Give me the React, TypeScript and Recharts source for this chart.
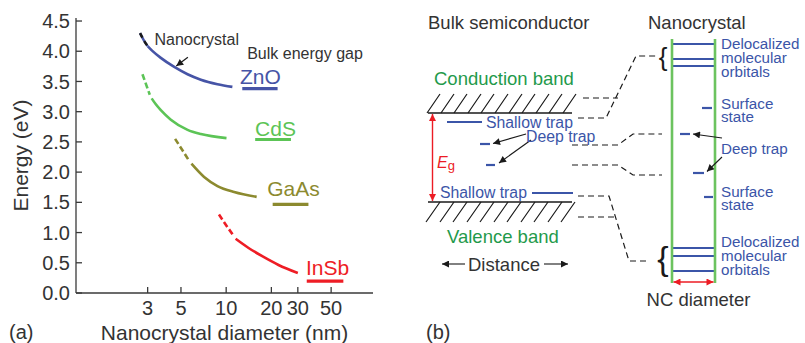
import React from "react";
import { LineChart, Line, XAxis, YAxis, ReferenceDot } from "recharts";

const FONT = '"Liberation Sans", Arial, Helvetica, sans-serif';
const INK = "#333333";
const AXIS = "#3a3a3a";
const BLUE = "#3b55a8";
const GREEN_TXT = "#1f9a4b";
const GREEN_LINE = "#6cc35f";
const RED = "#ec1c24";

const materialColor: Record<string, string> = {
  ZnO: "#4654a6",
  CdS: "#5cc456",
  GaAs: "#8c8a2f",
  InSb: "#ee1d25",
};

// ---- panel (a): band gap vs nanocrystal diameter ----
const diameterTicks = [3, 5, 10, 20, 30, 50];
const energyTicks = [0, 0.5, 1, 1.5, 2, 2.5, 3, 3.5, 4, 4.5];

const znoDashed = [
  { d: 2.67, e: 4.3 },
  { d: 2.83, e: 4.18 },
  { d: 3.01, e: 4.08 },
];
const znoSolid = [
  { d: 3.01, e: 4.08 },
  { d: 3.21, e: 4.01 },
  { d: 3.67, e: 3.89 },
  { d: 4.51, e: 3.74 },
  { d: 5.53, e: 3.62 },
  { d: 6.78, e: 3.53 },
  { d: 8.75, e: 3.455 },
  { d: 11.0, e: 3.41 },
];
const cdsDashed = [
  { d: 2.77, e: 3.62 },
  { d: 2.94, e: 3.44 },
  { d: 3.1, e: 3.28 },
];
const cdsSolid = [
  { d: 3.19, e: 3.22 },
  { d: 3.38, e: 3.13 },
  { d: 3.67, e: 3.025 },
  { d: 4.28, e: 2.868 },
  { d: 5.53, e: 2.7 },
  { d: 6.78, e: 2.63 },
  { d: 10.05, e: 2.563 },
];
const gaasDashed = [
  { d: 4.57, e: 2.55 },
  { d: 5.09, e: 2.37 },
  { d: 5.66, e: 2.19 },
];
const gaasSolid = [
  { d: 5.87, e: 2.14 },
  { d: 7.13, e: 1.92 },
  { d: 8.75, e: 1.77 },
  { d: 11.3, e: 1.67 },
  { d: 15.96, e: 1.59 },
];
const insbDashed = [
  { d: 8.95, e: 1.3 },
  { d: 10.07, e: 1.11 },
  { d: 11.3, e: 0.935 },
];
const insbSolid = [
  { d: 11.56, e: 0.897 },
  { d: 14.1, e: 0.745 },
  { d: 17.5, e: 0.604 },
  { d: 22.3, e: 0.464 },
  { d: 30.0, e: 0.331 },
];

const bulkGaps = [
  { name: "ZnO", from: 12.8, to: 22, e: 3.38 },
  { name: "CdS", from: 15.6, to: 27, e: 2.54 },
  { name: "GaAs", from: 20.4, to: 35.3, e: 1.465 },
  { name: "InSb", from: 34.4, to: 60.3, e: 0.195 },
];
const materialLabels = [
  { name: "ZnO", d: 16.9, e: 3.58 },
  { name: "CdS", d: 21.3, e: 2.73 },
  { name: "GaAs", d: 28.1, e: 1.73 },
  { name: "InSb", d: 47.3, e: 0.43 },
];
const notes = [
  { text: "Nanocrystal", d: 6.37, e: 4.2 },
  { text: "Bulk energy gap", d: 33.5, e: 3.97 },
];
const noteArrow = [
  { d: 5.56, e: 3.9 },
  { d: 4.65, e: 3.755 },
];

// ---- panel (b): schematic, x = distance across page, y = level (down) ----
const conductionEdge = [{ x: 428, y: 113 }, { x: 572, y: 113 }];
const valenceEdge = [{ x: 428, y: 202 }, { x: 572, y: 202 }];
const conductionHatchFeet = [427, 441, 454, 468, 481, 495, 509, 522, 536, 549, 563];
const valenceHatchTops = [440, 454, 467, 481, 494, 508, 521, 535, 548, 562, 575];
const gapArrow = [{ x: 432.5, y: 114 }, { x: 432.5, y: 201 }];
const bulkShallowTraps = [
  [{ x: 447, y: 122 }, { x: 482, y: 122 }],
  [{ x: 532, y: 193 }, { x: 573, y: 193 }],
];
const bulkDeepTraps = [
  [{ x: 480, y: 144 }, { x: 490, y: 144 }],
  [{ x: 486, y: 165 }, { x: 495, y: 165 }],
];
const bulkDeepPointers = [
  [{ x: 526, y: 134 }, { x: 493, y: 143.5 }],
  [{ x: 531, y: 140 }, { x: 499, y: 163 }],
];
const distanceArrows = [
  [{ x: 465, y: 264 }, { x: 442, y: 264 }],
  [{ x: 544, y: 264 }, { x: 568, y: 264 }],
];
const ncWalls = [
  [{ x: 672, y: 39 }, { x: 672, y: 283 }],
  [{ x: 715, y: 39 }, { x: 715, y: 283 }],
];
const ncOrbitalLevels = [44, 59, 66, 248, 256, 271];
const ncSurfaceStates = [
  [{ x: 702, y: 108 }, { x: 712, y: 108 }],
  [{ x: 704, y: 197 }, { x: 713, y: 197 }],
];
const ncDeepTraps = [
  [{ x: 680, y: 134 }, { x: 690, y: 134 }],
  [{ x: 693, y: 173 }, { x: 704, y: 173 }],
];
const ncDeepPointers = [
  [{ x: 722, y: 138 }, { x: 693, y: 134 }],
  [{ x: 722, y: 157 }, { x: 707, y: 171.5 }],
];
const ncDiameterArrow = [{ x: 673.5, y: 282 }, { x: 713.5, y: 282 }];
const correlations = [
  [{ x: 583, y: 98 }, { x: 618, y: 98 }],
  [{ x: 578, y: 118 }, { x: 606, y: 118 }, { x: 636, y: 56 }, { x: 658, y: 56 }],
  [{ x: 572, y: 145 }, { x: 618, y: 145 }, { x: 633, y: 134 }, { x: 662, y: 134 }],
  [{ x: 572, y: 165 }, { x: 618, y: 165 }, { x: 633, y: 175 }, { x: 662, y: 175 }],
  [{ x: 578, y: 196 }, { x: 609, y: 196 }, { x: 629, y: 261 }, { x: 647, y: 261 }],
  [{ x: 578, y: 217 }, { x: 615, y: 217 }],
];
const braces = [
  { x: 663, y: 59, size: 26 },
  { x: 663, y: 261, size: 34 },
];

const headings = [
  { text: "Bulk semiconductor", x: 428, y: 22 },
  { text: "Nanocrystal", x: 648, y: 22 },
  { text: "Distance", x: 468, y: 264 },
];
const bandNames = [
  { text: "Conduction band", x: 434, y: 78 },
  { text: "Valence band", x: 447, y: 236 },
];
const bulkTrapNames = [
  { text: "Shallow trap", x: 486, y: 122 },
  { text: "Deep trap", x: 526, y: 136 },
  { text: "Shallow trap", x: 440, y: 192 },
];
const ncNames = [
  { text: "Delocalized", x: 721, y: 44 },
  { text: "molecular", x: 721, y: 58 },
  { text: "orbitals", x: 721, y: 71.5 },
  { text: "Surface", x: 721, y: 104 },
  { text: "state", x: 721, y: 117 },
  { text: "Deep trap", x: 721, y: 149 },
  { text: "Surface", x: 721, y: 192 },
  { text: "state", x: 721, y: 204.5 },
  { text: "Delocalized", x: 721, y: 242 },
  { text: "molecular", x: 721, y: 256 },
  { text: "orbitals", x: 721, y: 269.5 },
];
const panelTags = [
  { text: "(a)", x: 9, y: 332 },
  { text: "(b)", x: 426, y: 332 },
];

type Pt = { x: number; y: number | null };

const hatch = (xs: number[], y0: number, dx: number, dy: number): Pt[] =>
  xs.flatMap((x) => [
    { x, y: y0 },
    { x: x + dx, y: y0 + dy },
    { x: x + dx, y: null },
  ]);

const say =
  (text: string, size: number, fill: string, anchor: "start" | "middle" | "end" = "start") =>
  (p: any) => {
    const vb = p.viewBox || {};
    const x = (vb.x ?? 0) + (vb.width ?? 0) / 2;
    const y = (vb.y ?? 0) + (vb.height ?? 0) / 2;
    return (
      <text x={x} y={y} dy="0.36em" textAnchor={anchor} fontSize={size} fill={fill} fontFamily={FONT}>
        {text}
      </text>
    );
  };

const Markers = ({ id }: { id: string }) => (
  <defs>
    <marker id={`${id}-k`} viewBox="0 0 10 10" refX="10" refY="5" markerWidth="9" markerHeight="7"
      markerUnits="userSpaceOnUse" orient="auto-start-reverse">
      <path d="M0,0 L10,5 L0,10 z" fill="#1a1a1a" />
    </marker>
    <marker id={`${id}-r`} viewBox="0 0 10 10" refX="10" refY="5" markerWidth="9" markerHeight="7"
      markerUnits="userSpaceOnUse" orient="auto-start-reverse">
      <path d="M0,0 L10,5 L0,10 z" fill={RED} />
    </marker>
  </defs>
);

const seg = (key: string, data: Pt[] | any[], stroke: string, width: number, extra: any = {}) => (
  <Line key={key} data={data} dataKey="y" type="linear" stroke={stroke} strokeWidth={width}
    dot={false} activeDot={false} isAnimationActive={false} {...extra} />
);

function PanelA() {
  const curve = (key: string, data: any[], color: string, dashed: boolean) => (
    <Line key={key} data={data} dataKey="e" type="monotone" stroke={color} strokeWidth={2.6}
      strokeDasharray={dashed ? "6 3" : undefined} dot={false} activeDot={false} isAnimationActive={false} />
  );
  return (
    <LineChart width={400} height={343} margin={{ top: 18, right: 27, bottom: 0, left: 0 }}>
      <Markers id="pa" />
      <XAxis type="number" dataKey="d" scale="log" domain={[1, 95]} allowDataOverflow ticks={diameterTicks}
        height={50} tickSize={-6} tickMargin={13.5} stroke={AXIS} strokeWidth={1.3}
        tick={{ fill: INK, fontSize: 20, fontFamily: FONT }}
        label={(p: any) => (
          <text x={p.viewBox.x + p.viewBox.width / 2} y={p.viewBox.y + 46.5} textAnchor="middle"
            fontSize={21} fill={INK} fontFamily={FONT}>
            Nanocrystal diameter (nm)
          </text>
        )} />
      <XAxis xAxisId="top" orientation="top" type="number" dataKey="d" scale="log" domain={[1, 95]}
        allowDataOverflow height={0} tick={false} tickLine={false} stroke={AXIS} strokeWidth={1.3} />
      <YAxis type="number" domain={[0, 4.55]} allowDataOverflow ticks={energyTicks} width={76}
        tickSize={-6} tickMargin={12} stroke={AXIS} strokeWidth={1.3}
        tickFormatter={(v: number) => v.toFixed(1)}
        tick={{ fill: INK, fontSize: 20, fontFamily: FONT }}
        label={(p: any) => {
          const cx = p.viewBox.x + 28;
          const cy = p.viewBox.y + p.viewBox.height / 2;
          return (
            <text x={cx} y={cy} transform={`rotate(-90 ${cx} ${cy})`} textAnchor="middle"
              fontSize={21} fill={INK} fontFamily={FONT}>
              Energy (eV)
            </text>
          );
        }} />
      <YAxis yAxisId="right" orientation="right" type="number" domain={[0, 4.55]} allowDataOverflow
        ticks={energyTicks} width={0} tick={false} tickSize={-6} stroke={AXIS} strokeWidth={1.3} />

      {curve("zs", znoSolid, materialColor.ZnO, false)}
      <Line data={znoDashed} dataKey="e" type="monotone" stroke={materialColor.ZnO} strokeWidth={2.4}
        dot={false} activeDot={false} isAnimationActive={false} />
      <Line data={znoDashed} dataKey="e" type="monotone" stroke="#1a1a1a" strokeWidth={2.5} strokeDasharray="5 4"
        dot={false} activeDot={false} isAnimationActive={false} />
      {curve("cd", cdsDashed, materialColor.CdS, true)}
      {curve("cs", cdsSolid, materialColor.CdS, false)}
      {curve("gd", gaasDashed, materialColor.GaAs, true)}
      {curve("gs", gaasSolid, materialColor.GaAs, false)}
      {curve("id", insbDashed, materialColor.InSb, true)}
      {curve("is", insbSolid, materialColor.InSb, false)}

      {bulkGaps.map((b) => (
        <Line key={`bulk-${b.name}`} data={[{ d: b.from, e: b.e }, { d: b.to, e: b.e }]} dataKey="e"
          type="linear" stroke={materialColor[b.name]} strokeWidth={3.2} dot={false} activeDot={false}
          isAnimationActive={false} />
      ))}
      {materialLabels.map((m) => (
        <ReferenceDot key={`lab-${m.name}`} x={m.d} y={m.e} r={0} fill="none" stroke="none" ifOverflow="visible"
          label={say(m.name, 21, materialColor[m.name], "middle")} />
      ))}
      {notes.map((n) => (
        <ReferenceDot key={n.text} x={n.d} y={n.e} r={0} fill="none" stroke="none" ifOverflow="visible"
          label={say(n.text, 16, INK, "middle")} />
      ))}
      <Line data={noteArrow} dataKey="e" type="linear" stroke="#1a1a1a" strokeWidth={1.2}
        markerEnd="url(#pa-k)" dot={false} activeDot={false} isAnimationActive={false} />
    </LineChart>
  );
}

function PanelB() {
  const dot = (key: string, t: { text: string; x: number; y: number }, size: number, fill: string,
    anchor: "start" | "middle" = "start") => (
    <ReferenceDot key={key} x={t.x} y={t.y} r={0} fill="none" stroke="none" ifOverflow="visible"
      label={say(t.text, size, fill, anchor)} />
  );
  return (
    <LineChart width={805} height={343} margin={{ top: 0, right: 0, bottom: 0, left: 0 }}>
      <Markers id="pb" />
      <XAxis type="number" dataKey="x" domain={[0, 805]} allowDataOverflow hide />
      <YAxis type="number" domain={[0, 343]} allowDataOverflow reversed hide />

      {seg("cb", conductionEdge, "#1a1a1a", 1.6)}
      {seg("vb", valenceEdge, "#1a1a1a", 1.6)}
      {seg("cbh", hatch(conductionHatchFeet, 113, 13, -19), "#1a1a1a", 1.2)}
      {seg("vbh", hatch(valenceHatchTops, 202, -14, 20), "#1a1a1a", 1.2)}
      {seg("eg", gapArrow, RED, 1.4, { markerStart: "url(#pb-r)", markerEnd: "url(#pb-r)" })}
      {bulkShallowTraps.map((s, i) => seg(`bst${i}`, s, BLUE, 2.2))}
      {bulkDeepTraps.map((s, i) => seg(`bdt${i}`, s, BLUE, 2.2))}
      {bulkDeepPointers.map((s, i) => seg(`bdp${i}`, s, "#1a1a1a", 1.1, { markerEnd: "url(#pb-k)" }))}
      {distanceArrows.map((s, i) => seg(`dist${i}`, s, "#1a1a1a", 1.1, { markerEnd: "url(#pb-k)" }))}
      {correlations.map((s, i) => seg(`cor${i}`, s, "#1a1a1a", 1.2, { strokeDasharray: "6 4" }))}

      {ncOrbitalLevels.map((y, i) =>
        seg(`orb${i}`, [{ x: 672, y }, { x: 715, y }], BLUE, 2.2))}
      {ncWalls.map((s, i) => seg(`wall${i}`, s, GREEN_LINE, 2.6))}
      {ncSurfaceStates.map((s, i) => seg(`ss${i}`, s, BLUE, 2.2))}
      {ncDeepTraps.map((s, i) => seg(`ndt${i}`, s, BLUE, 2.2))}
      {ncDeepPointers.map((s, i) => seg(`ndp${i}`, s, "#1a1a1a", 1.1, { markerEnd: "url(#pb-k)" }))}
      {seg("ncd", ncDiameterArrow, RED, 1.4, { markerStart: "url(#pb-r)", markerEnd: "url(#pb-r)" })}

      {braces.map((b, i) => (
        <ReferenceDot key={`br${i}`} x={b.x} y={b.y} r={0} fill="none" stroke="none" ifOverflow="visible"
          label={(p: any) => (
            <text x={p.viewBox.x} y={p.viewBox.y} dy="0.27em" textAnchor="middle" fontSize={b.size}
              fill="#1a1a1a" fontFamily={FONT}>
              {"{"}
            </text>
          )} />
      ))}

      {headings.map((t, i) => dot(`h${i}`, t, 18.5, INK))}
      {bandNames.map((t, i) => dot(`bn${i}`, t, 18.5, GREEN_TXT))}
      {bulkTrapNames.map((t, i) => dot(`bt${i}`, t, 15.8, BLUE))}
      {ncNames.map((t, i) => dot(`nc${i}`, t, 15.2, BLUE))}
      {dot("ncdt", { text: "NC diameter", x: 698.5, y: 299 }, 18.5, INK, "middle")}
      {panelTags.map((t, i) => dot(`tag${i}`, t, 20, INK))}
      <ReferenceDot x={437} y={162} r={0} fill="none" stroke="none" ifOverflow="visible"
        label={(p: any) => (
          <text x={p.viewBox.x} y={p.viewBox.y} dy="0.36em" fill={RED} fontFamily={FONT} fontSize={16}>
            <tspan fontStyle="italic">E</tspan>
            <tspan fontSize={13} dy={2}>g</tspan>
          </text>
        )} />
    </LineChart>
  );
}

export default function App() {
  return (
    <div style={{ position: "absolute", left: 0, top: 0, width: 805, height: 343, background: "#fff" }}>
      <div style={{ position: "absolute", left: 0, top: 0 }}>
        <PanelA />
      </div>
      <div style={{ position: "absolute", left: 0, top: 0 }}>
        <PanelB />
      </div>
    </div>
  );
}
